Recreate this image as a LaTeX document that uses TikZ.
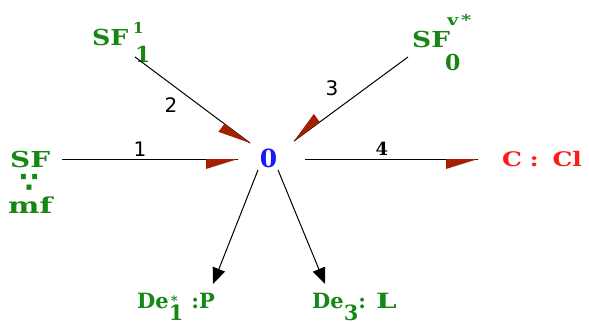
\documentclass[tikz,border=0pt]{standalone}
\usepackage{fontspec}
\setmainfont{DejaVu Serif}
\newfontfamily\gfont{DejaVu Serif}
\newfontfamily\lfont{DejaVu Sans}
\usetikzlibrary{calc,arrows.meta}
\definecolor{grn}{RGB}{22,135,22}
\definecolor{brn}{RGB}{165,32,0}
\definecolor{rd}{RGB}{255,25,25}
\definecolor{bl}{RGB}{25,25,255}
\newcommand\halfhead[2]{%
  \path ($(#2)!32pt!(#1)$) coordinate (hb);
  \fill[brn] (#2) -- (hb) -- ($(hb)!10pt!-90:(#2)$) -- cycle;}
\newcommand\wide[2]{\scalebox{#1}[1]{#2}}
\newcommand\smallfs{\fontsize{13}{13}\selectfont}
\begin{document}
\begin{tikzpicture}[x=1pt,y=-1pt,
  gtxt/.style={inner sep=0pt, anchor=base west, text=grn, font=\gfont\bfseries\fontsize{21}{21}\selectfont},
  gbig/.style={gtxt, font=\gfont\bfseries\fontsize{22}{22}\selectfont},
  gsmall/.style={gtxt, font=\gfont\bfseries\fontsize{15}{15}\selectfont},
  lbl/.style={inner sep=0pt, font=\lfont\fontsize{20}{20}\selectfont},
  conn/.style={draw=black, line width=1pt},
  blackarrow/.style={conn, -{Triangle[length=16pt,width=13pt]}}]
\useasboundingbox (0,0) rectangle (589,324);
% texts
\node[gbig] (sfa) at (10,167) {\wide{1.27}{SF}};
\node[inner sep=0pt, anchor=base, text height=14pt, text depth=0pt, text=grn, font=\lfont\bfseries\fontsize{28}{28}\selectfont] (dots) at (29,192) {∵};
\node[gbig] (mf) at (8,213) {\wide{1.35}{mf}};
\node[gbig] (sfb) at (92,45) {\wide{1.15}{SF}};
\node[gsmall] (sfbsup) at (133,33) {1};
\node[gbig] (sfbsub) at (135,62) {1};
\node[gbig] (sfc) at (412,47) {\wide{1.2}{SF}};
\node[gsmall] (sfcsup) at (447,25) {\wide{1.3}{v\hspace{2pt}*}};
\node[gbig] (sfcsub) at (445,70) {0};
\node[inner sep=0pt, text=bl, font=\gfont\bfseries\fontsize{25}{25}\selectfont] (zero) at (268.5,158.5) {0};
\node[inner sep=0pt, anchor=base west, text=rd, font=\gfont\bfseries\fontsize{20}{20}\selectfont] (cc) at (502,166) {\wide{1.25}{C\hspace{6pt}:\hspace{11pt}Cl}};
\node[gtxt] (dea) at (137,308) {De\makebox[0pt][l]{\hspace{2pt}\raisebox{3pt}{\smallfs *}}\raisebox{-12pt}{1}\hspace{8pt}:P};
\node[gtxt] (deb) at (312,308) {De\raisebox{-12pt}{3}:\hspace{10pt}\wide{1.4}{L}};
% connector ends
\coordinate (s1) at (62,159);  \coordinate (t1) at (238,159);
\coordinate (s2) at (135,57);  \coordinate (t2) at (250,143);
\coordinate (s3) at (408,57);  \coordinate (t3) at (294,141);
\coordinate (s4) at (305,159); \coordinate (t4) at (478,159);
\coordinate (s5) at (258,170); \coordinate (t5) at (213,284);
\coordinate (s6) at (278,170); \coordinate (t6) at (325,284);
\draw[conn] (s1) -- (t1); \halfhead{s1}{t1}
\draw[conn] (s2) -- (t2); \halfhead{s2}{t2}
\draw[conn] (s3) -- (t3); \halfhead{s3}{t3}
\draw[conn] (s4) -- (t4); \halfhead{s4}{t4}
\draw[blackarrow] (s5) -- (t5);
\draw[blackarrow] (s6) -- (t6);
% labels
\node[lbl] (l1) at (140,149) {1};
\node[lbl] (l2) at (171,105) {2};
\node[lbl] (l3) at (332,88) {3};
\node[inner sep=0pt, font=\gfont\bfseries\fontsize{18}{18}\selectfont] (l4) at (382,148.5) {4};
\end{tikzpicture}
\end{document}
